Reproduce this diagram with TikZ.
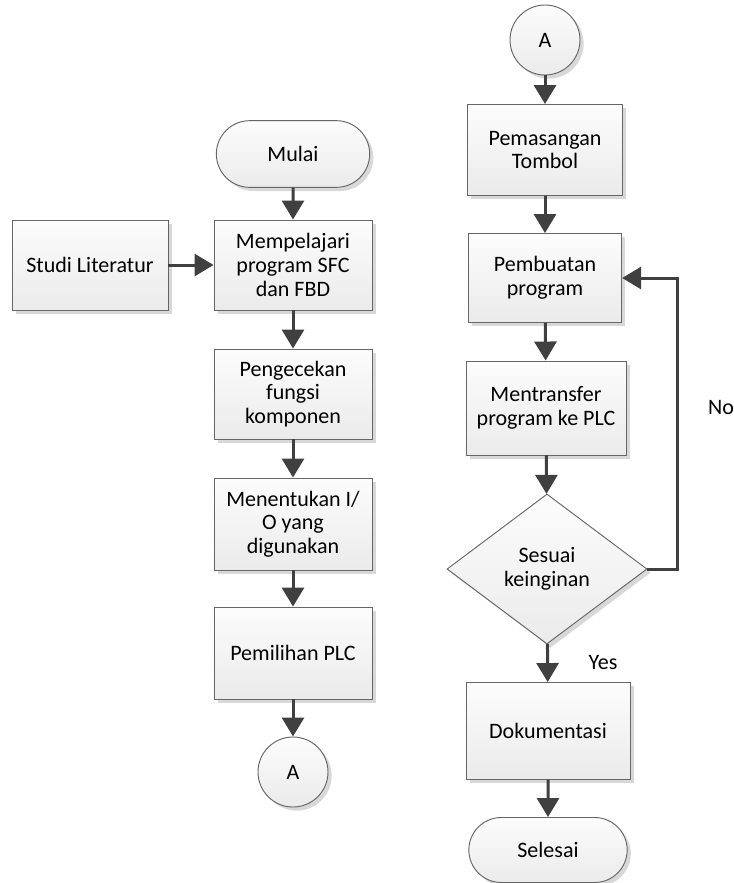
\documentclass[tikz,border=0pt]{standalone}
\usepackage{fontspec}
\setmainfont{Carlito}
\usetikzlibrary{arrows.meta,shapes.geometric,shapes.misc,shadows}

\tikzset{
  base/.style={draw=black!60,line width=0.8pt,top color=black!1,bottom color=black!8,
    drop shadow={shadow xshift=0.11cm,shadow yshift=-0.11cm,fill=black!30,opacity=0.5},
    align=center,inner sep=2pt,font=\fontsize{18.8}{20.2}\selectfont},
  proc/.style={base,rectangle,minimum width=4.74cm,minimum height=2.7cm},
  term/.style={base,rounded rectangle,minimum width=4.74cm,minimum height=2cm},
  conn/.style={base,circle,minimum size=2.1cm},
  decide/.style={base,diamond,minimum width=6cm,minimum height=4.5cm,inner sep=0pt},
  flow/.style={draw=black!75,line width=0.09cm,-{Triangle[width=0.66cm,length=0.57cm]}},
  lbl/.style={font=\fontsize{18.8}{20.2}\selectfont}
}

\begin{document}
\begin{tikzpicture}[x=0.03cm,y=-0.03cm]
\useasboundingbox (0,0) rectangle (734,883);

\node[term] (mulai) at (293,154) {Mulai};
\node[proc] (pelajari) at (293,265) {Mempelajari\\program SFC\\dan FBD};
\node[proc,minimum width=4.68cm] (studi) at (90,265) {Studi Literatur};
\node[proc] (cek) at (293,394) {Pengecekan\\fungsi\\komponen};
\node[proc,minimum height=2.76cm] (io) at (293,524) {Menentukan I/\\O yang\\digunakan};
\node[proc,minimum height=2.76cm] (pilih) at (293,653) {Pemilihan PLC};
\node[conn] (a1) at (293,772) {A};

\node[conn] (a2) at (545,40) {A};
\node[proc,minimum width=4.65cm,minimum height=2.73cm] (pasang) at (545,150) {Pemasangan\\Tombol};
\node[proc,minimum width=4.6cm,minimum height=2.67cm] (buat) at (545,278) {Pembuatan\\program};
\node[proc,minimum width=4.8cm,minimum height=2.82cm] (transfer) at (546,408) {Mentransfer\\program ke PLC};
\node[decide] (sesuai) at (547,569) {Sesuai\\keinginan};
\node[proc,minimum width=4.92cm,minimum height=2.91cm] (dok) at (548,731) {Dokumentasi};
\node[term,minimum width=4.89cm,minimum height=1.95cm] (selesai) at (548,850) {Selesai};

\coordinate (balik) at (677,569);
\node[lbl] (yes) at (603,663) {Yes};
\node[lbl] (no) at (721,408) {No};

\draw[flow] (mulai) -- (pelajari);
\draw[flow] (studi) -- (pelajari);
\draw[flow] (pelajari) -- (cek);
\draw[flow] (cek) -- (io);
\draw[flow] (io) -- (pilih);
\draw[flow] (pilih) -- (a1);

\draw[flow] (a2) -- (pasang);
\draw[flow] (pasang) -- (buat);
\draw[flow] (buat) -- (transfer);
\draw[flow] (transfer) -- (sesuai);
\draw[flow] (sesuai) -- (dok);
\draw[flow] (dok) -- (selesai);
\draw[flow] (sesuai.east) -- (balik) |- (buat.east);

\end{tikzpicture}
\end{document}
